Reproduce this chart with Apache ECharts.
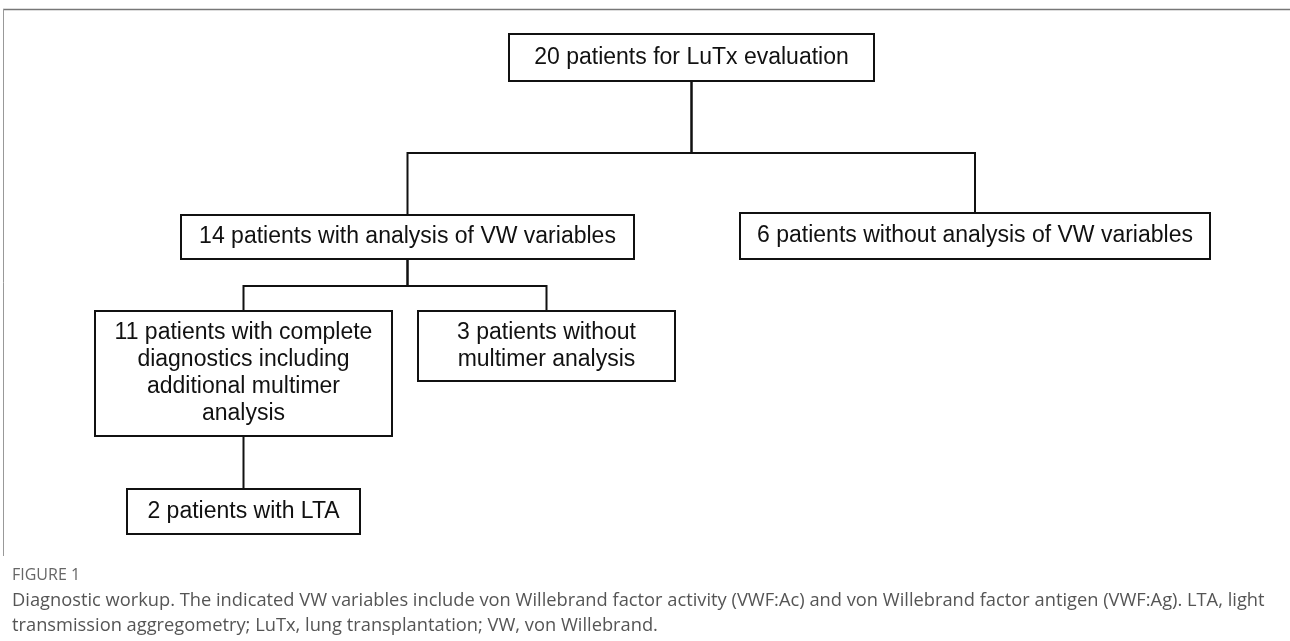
<!DOCTYPE html>
<html>
<head>
<meta charset="utf-8">
<script src="https://cdn.jsdelivr.net/npm/echarts@6/dist/echarts.min.js"></script>
<style>
html,body{margin:0;padding:0;background:#fff;}
#c{width:1290px;height:641px;}
</style>
</head>
<body>
<div id="c"></div>
<script>
// Node labels (flowchart content)
const nodeLabels = [
  '20 patients for LuTx evaluation',
  '14 patients with analysis of VW variables',
  '6 patients without analysis of VW variables',
  '11 patients with complete\ndiagnostics including\nadditional multimer\nanalysis',
  '3 patients without\nmultimer analysis',
  '2 patients with LTA'
];
// Layout of node boxes in diagram units [x0, y0, x1, y1]
const nodeBoxes = [
  [509, 34, 874, 81],
  [181, 215, 634, 259],
  [740, 213, 1210, 259],
  [95, 311, 392, 436],
  [418, 311, 675, 381],
  [127, 489, 360, 534]
];
// Edges: [parent, [children], junctionY]
const edges = [
  [0, [1, 2], 153],
  [1, [3, 4], 286],
  [3, [5], null]
];
const captionHead = 'FIGURE 1';
const captionText = 'Diagnostic workup. The indicated VW variables include von Willebrand factor activity (VWF:Ac) and von Willebrand factor antigen (VWF:Ag). LTA, light\ntransmission aggregometry; LuTx, lung transplantation; VW, von Willebrand.';

const boxData = nodeBoxes.map((b, i) => [b[0], b[1], b[2], b[3], i]);
const edgeData = [];
edges.forEach(([p, ch, jy]) => {
  const pb = nodeBoxes[p];
  const px = (pb[0] + pb[2]) / 2;
  ch.forEach(c => {
    const cb = nodeBoxes[c];
    const cx = (cb[0] + cb[2]) / 2;
    if (jy == null) {
      edgeData.push([px, pb[3], px, pb[3], px, cb[1], px, cb[1]]);
    } else {
      edgeData.push([px, pb[3], px, jy, cx, jy, cx, cb[1]]);
    }
  });
});

const chart = echarts.init(document.getElementById('c'), null, {renderer: 'canvas'});
chart.setOption({
  animation: false,
  backgroundColor: '#fff',
  grid: {left: 0, right: 0, top: 0, bottom: 0},
  xAxis: {type: 'value', min: 0, max: 1290, show: false},
  yAxis: {type: 'value', min: 0, max: 641, inverse: true, show: false},
  title: [
    {text: captionHead, left: 7, top: 562,
     textStyle: {fontFamily: 'Open Sans', fontSize: 16, fontWeight: 'normal', color: '#666'}},
    {text: captionText, left: 7, top: 583,
     textStyle: {fontFamily: 'Open Sans', fontSize: 18.3, fontWeight: 'normal', color: '#555', lineHeight: 25}}
  ],
  graphic: [
    {type: 'line', shape: {x1: 3, y1: 9.5, x2: 1290, y2: 9.5}, style: {stroke: '#777', lineWidth: 1.5}, silent: true},
    {type: 'line', shape: {x1: 3.5, y1: 9, x2: 3.5, y2: 556}, style: {stroke: '#999', lineWidth: 1}, silent: true}
  ],
  series: [
    {
      type: 'custom',
      coordinateSystem: 'cartesian2d',
      data: edgeData,
      renderItem: function (params, api) {
        const pts = [];
        for (let k = 0; k < 4; k++) pts.push(api.coord([api.value(2 * k), api.value(2 * k + 1)]));
        return {type: 'polyline', shape: {points: pts}, style: {stroke: '#111', lineWidth: 2, fill: null}};
      }
    },
    {
      type: 'custom',
      coordinateSystem: 'cartesian2d',
      data: boxData,
      renderItem: function (params, api) {
        const p0 = api.coord([api.value(0), api.value(1)]);
        const p1 = api.coord([api.value(2), api.value(3)]);
        const idx = api.value(4);
        return {
          type: 'group',
          children: [
            {type: 'rect', shape: {x: p0[0], y: p0[1], width: p1[0] - p0[0], height: p1[1] - p0[1]},
             style: {fill: '#fff', stroke: '#111', lineWidth: 2}},
            {type: 'text', x: (p0[0] + p1[0]) / 2, y: (p0[1] + p1[1]) / 2,
             style: {text: nodeLabels[idx], fontFamily: 'Liberation Sans, Arial, sans-serif', fontSize: 23,
                     lineHeight: 27, fill: '#111', align: 'center', verticalAlign: 'middle'}}
          ]
        };
      }
    }
  ]
});
</script>
</body>
</html>
